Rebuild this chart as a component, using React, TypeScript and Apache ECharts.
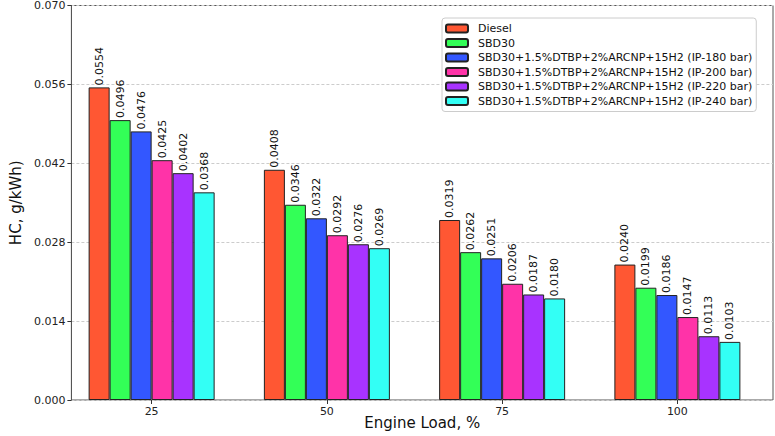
import React, { useEffect, useRef } from "react";
import * as echarts from "echarts";

const categories = ["25", "50", "75", "100"];
const seriesNames = [
  "Diesel",
  "SBD30",
  "SBD30+1.5%DTBP+2%ARCNP+15H2 (IP-180 bar)",
  "SBD30+1.5%DTBP+2%ARCNP+15H2 (IP-200 bar)",
  "SBD30+1.5%DTBP+2%ARCNP+15H2 (IP-220 bar)",
  "SBD30+1.5%DTBP+2%ARCNP+15H2 (IP-240 bar)",
];
const diesel = [0.0554, 0.0408, 0.0319, 0.024];
const sbd30 = [0.0496, 0.0346, 0.0262, 0.0199];
const ip180 = [0.0476, 0.0322, 0.0251, 0.0186];
const ip200 = [0.0425, 0.0292, 0.0206, 0.0147];
const ip220 = [0.0402, 0.0276, 0.0187, 0.0113];
const ip240 = [0.0368, 0.0269, 0.018, 0.0103];
const colors = ["#FF5733", "#33FF57", "#3357FF", "#FF33A8", "#A833FF", "#33FFF5"];
const yTicks = { min: 0, max: 0.07, interval: 0.014 };

const FONT = "DejaVu Sans";

export default function App() {
  const ref = useRef<HTMLDivElement>(null);
  useEffect(() => {
    if (!ref.current) return;
    const chart = echarts.init(ref.current, undefined, { renderer: "svg" });
    const allData = [diesel, sbd30, ip180, ip200, ip220, ip240];
    const series = allData.map((d, i) => ({
      name: seriesNames[i],
      type: "bar",
      xAxisIndex: 1,
      yAxisIndex: 1,
      data: d,
      barWidth: 21,
      barGap: "0%",
      itemStyle: { color: colors[i], borderColor: "#222", borderWidth: 1 },
      label: {
        show: true,
        position: "top",
        rotate: 90,
        align: "left",
        verticalAlign: "middle",
        distance: 2,
        fontSize: 11,
        fontFamily: FONT,
        color: "#111",
        formatter: (p: any) => Number(p.value).toFixed(4),
      },
    }));
    chart.setOption({
      animation: false,
      textStyle: { fontFamily: FONT },
      grid: [
        { left: 56, right: 2, top: 5, bottom: 36, show: true, borderColor: "#555", borderWidth: 1 },
        { left: 64, right: 10, top: 5, bottom: 36 },
      ],
      legend: {
        data: seriesNames,
        orient: "vertical",
        left: 442,
        top: 18,
        itemWidth: 22,
        itemHeight: 8,
        itemGap: 3.5,
        padding: [5, 4, 5, 3],
        backgroundColor: "#fff",
        borderColor: "#ccc",
        borderWidth: 1,
        borderRadius: 3,
        textStyle: { fontSize: 11, fontFamily: FONT, color: "#111", padding: [0, 0, 0, 5] },
      },
      xAxis: [
        {
          type: "value",
          gridIndex: 0,
          min: 0,
          max: 1,
          axisLine: { show: false },
          axisTick: { show: false },
          axisLabel: { show: false },
          splitLine: { show: false },
          name: "Engine Load, %",
          nameLocation: "middle",
          nameGap: 15,
          nameTextStyle: { fontSize: 15, fontFamily: FONT, color: "#111", verticalAlign: "top" },
        },
        {
          type: "category",
          gridIndex: 1,
          data: categories,
          axisLine: { show: false },
          axisTick: { show: true, alignWithLabel: true, length: 4, lineStyle: { color: "#333" } },
          axisLabel: { fontSize: 11, fontFamily: FONT, color: "#222", margin: 6 },
        },
      ],
      yAxis: [
        {
          type: "value",
          gridIndex: 0,
          min: yTicks.min,
          max: yTicks.max,
          interval: yTicks.interval,
          axisLine: { show: true, lineStyle: { color: "#555" } },
          axisTick: { show: true, length: 4, lineStyle: { color: "#333" } },
          axisLabel: {
            fontSize: 11,
            fontFamily: FONT,
            color: "#222",
            margin: 6,
            formatter: (v: number) => v.toFixed(3),
          },
          splitLine: { show: true, lineStyle: { color: "#ccc", type: [3, 2], width: 1 } },
          name: "HC, g/kWh)",
          nameLocation: "middle",
          nameGap: 42,
          nameTextStyle: { fontSize: 15, fontFamily: FONT, color: "#111" },
        },
        {
          type: "value",
          gridIndex: 1,
          min: yTicks.min,
          max: yTicks.max,
          interval: yTicks.interval,
          show: false,
          splitLine: { show: false },
        },
      ],
      series,
    });
    return () => chart.dispose();
  }, []);
  return <div ref={ref} style={{ width: 775, height: 436, position: "absolute", left: 0, top: 0 }} />;
}
